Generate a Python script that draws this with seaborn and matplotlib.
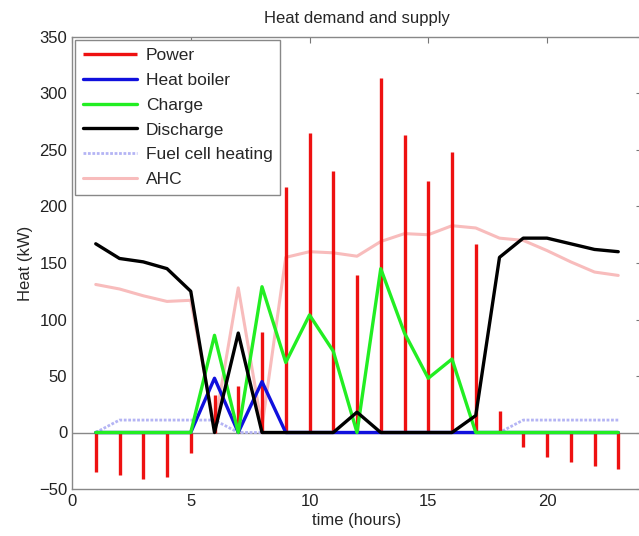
import seaborn as sns
import matplotlib.pyplot as plt
import numpy as np

hours = np.arange(1, 24)

power = [-35, -38, -41, -39, -18, 33, 41, 89, 217, 265, 231, 139, 314,
         263, 223, 248, 167, 19, -13, -22, -26, -30, -32]
boiler = [0, 0, 0, 0, 0, 48, 0, 45, 0, 0, 0, 0, 0,
          0, 0, 0, 0, 0, 0, 0, 0, 0, 0]
charge = [0, 0, 0, 0, 0, 86, 0, 129, 62, 104, 72, 0, 145,
          88, 48, 65, 0, 0, 0, 0, 0, 0, 0]
discharge = [167, 154, 151, 145, 125, 0, 88, 0, 0, 0, 0, 18, 0,
             0, 0, 0, 15, 155, 172, 172, 167, 162, 160]
fuel_cell = [0, 11, 11, 11, 11, 11, 0, 0, 0, 0, 0, 0, 0,
             0, 0, 0, 0, 0, 11, 11, 11, 11, 11]
ahc = [131, 127, 121, 116, 117, 5, 128, 5, 155, 160, 159, 156, 169,
       176, 175, 183, 181, 172, 170, 161, 151, 142, 139]

sns.set_style("white")
plt.rcParams["font.family"] = ["Liberation Sans", "DejaVu Sans"]

fig = plt.figure(figsize=(6.39, 5.36), dpi=100)
ax = fig.add_axes([72 / 639, 47 / 536, 570 / 639, 452 / 536])

ax.axhline(0, color="#888888", lw=1, zorder=1)

ax.vlines(hours, 0, power, color="#ee1111", lw=2.4, label="Power", zorder=3)
sns.lineplot(x=hours, y=boiler, color="#1010dd", lw=2.4, label="Heat boiler", ax=ax, zorder=4)
sns.lineplot(x=hours, y=charge, color="#22ee22", lw=2.4, label="Charge", ax=ax, zorder=5)
sns.lineplot(x=hours, y=discharge, color="black", lw=2.4, label="Discharge", ax=ax, zorder=6)
sns.lineplot(x=hours, y=fuel_cell, color="#b4b4f4", lw=2, ls=(0, (1, 0.6)),
             label="Fuel cell heating", ax=ax, zorder=2)
sns.lineplot(x=hours, y=ahc, color="#f8bcbc", lw=2.2, label="AHC", ax=ax, zorder=2)

ax.set_xlim(0, 24)
ax.set_ylim(-50, 350)
ax.set_xticks([0, 5, 10, 15, 20])
ax.set_yticks(np.arange(-50, 351, 50))
ax.tick_params(direction="in", length=4, labelsize=12, color="#777777",
               top=True, right=True, labelcolor="#222222")
for s in ax.spines.values():
    s.set_color("#888888")
    s.set_linewidth(1)

ax.set_title("Heat demand and supply", fontsize=12, pad=10)
ax.set_xlabel("time (hours)", fontsize=12, labelpad=3)
ax.set_ylabel("Heat (kW)", fontsize=12, labelpad=4)

leg = ax.legend(loc="upper left", fontsize=12.5, handlelength=3.1,
                borderaxespad=0.2, labelspacing=0.55, fancybox=False,
                framealpha=1, edgecolor="#888888", borderpad=0.45,
                handletextpad=0.5)
leg.get_frame().set_linewidth(1)

fig.savefig("out.png", dpi=100)
